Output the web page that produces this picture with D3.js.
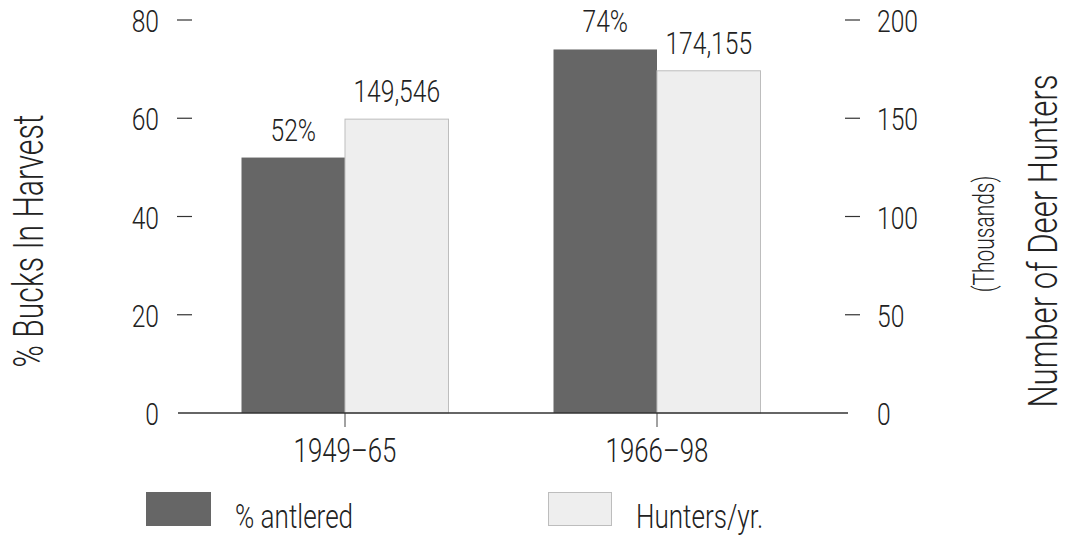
<!DOCTYPE html>
<html>
<head>
<meta charset="utf-8">
<script src="https://cdn.jsdelivr.net/npm/d3@7"></script>
<style>
  body { margin: 0; background: #fff; }
  text { font-family: Roboto, "DejaVu Sans", sans-serif; font-weight: 300; fill: #222; }
</style>
</head>
<body>
<svg id="chart" width="1066" height="535"></svg>
<script>
// data
var periods = ["1949–65", "1966–98"];
var pctAntlered = [52, 74];
var hunters = [149546, 174155];
var leftTicks = [0, 20, 40, 60, 80];
var rightTicks = [0, 50, 100, 150, 200];
var seriesNames = ["% antlered", "Hunters/yr."];
var colors = ["#666666", "#eeeeee"];

var svg = d3.select("#chart");

// narrow drafting-style font faked with a horizontal squeeze
function label(x, y, str, anchor, size, sx, rot) {
	var t = "translate(" + x + "," + y + ")" + (rot ? " rotate(" + rot + ")" : "") + " scale(" + (sx || 0.77) + ",1)";
	return svg.append("text")
		.attr("transform", t)
		.attr("text-anchor", anchor || "start")
		.style("font-size", (size || 32) + "px")
		.text(str);
}

var yLeft = d3.scaleLinear().domain([0, 80]).range([413, 20]);
var yRight = d3.scaleLinear().domain([0, 200000]).range([413, 20]);
var x0 = d3.scaleBand().domain(periods).range([189, 813]);
var x1 = d3.scaleBand().domain(seriesNames).range([-103.5, 103.5]);

// bars
periods.forEach(function (p, i) {
	var cx = x0(p) + x0.bandwidth() / 2;
	svg.append("rect")
		.attr("x", cx + x1(seriesNames[0]))
		.attr("y", yLeft(pctAntlered[i]))
		.attr("width", x1.bandwidth())
		.attr("height", yLeft(0) - yLeft(pctAntlered[i]))
		.attr("fill", colors[0]);
	svg.append("rect")
		.attr("x", cx + x1(seriesNames[1]))
		.attr("y", yRight(hunters[i]))
		.attr("width", x1.bandwidth())
		.attr("height", yRight(0) - yRight(hunters[i]))
		.attr("fill", colors[1])
		.attr("stroke", "#bdbdbd")
		.attr("stroke-width", 1);
	label(cx + x1(seriesNames[0]) + x1.bandwidth() / 2, yLeft(pctAntlered[i]) - 17, pctAntlered[i] + "%", "middle");
	label(cx + x1(seriesNames[1]) + x1.bandwidth() / 2, yRight(hunters[i]) - 17, d3.format(",")(hunters[i]), "middle");
	// category tick + label
	svg.append("line")
		.attr("x1", cx).attr("x2", cx)
		.attr("y1", yLeft(0)).attr("y2", yLeft(0) + 14)
		.attr("stroke", "#444").attr("stroke-width", 1);
	label(cx, 462, p, "middle", 34, 0.76);
});

// baseline
svg.append("line")
	.attr("x1", 178).attr("x2", 848)
	.attr("y1", yLeft(0)).attr("y2", yLeft(0))
	.attr("stroke", "#333").attr("stroke-width", 1.5);

// left ticks
leftTicks.forEach(function (v) {
	if (v > 0) {
		svg.append("line")
			.attr("x1", 177).attr("x2", 192)
			.attr("y1", yLeft(v)).attr("y2", yLeft(v))
			.attr("stroke", "#333").attr("stroke-width", 1.2);
	}
	label(159, yLeft(v) + 12, v, "end");
});

// right ticks
rightTicks.forEach(function (v) {
	if (v > 0) {
		svg.append("line")
			.attr("x1", 845).attr("x2", 860)
			.attr("y1", yRight(v * 1000)).attr("y2", yRight(v * 1000))
			.attr("stroke", "#333").attr("stroke-width", 1.2);
	}
	label(877, yRight(v * 1000) + 12, v, "start");
});

// axis titles
label(43, 241, "% Bucks In Harvest", "middle", 42, 0.72, -90);
label(1057, 241, "Number of Deer Hunters", "middle", 41, 0.76, -90);
label(994, 234, "(Thousands)", "middle", 30, 0.70, -90);

// legend
svg.append("rect").attr("x", 146).attr("y", 492).attr("width", 65).attr("height", 34).attr("fill", colors[0]);
label(235, 528, seriesNames[0], "start", 33, 0.79);
svg.append("rect").attr("x", 548.5).attr("y", 492.5).attr("width", 63).attr("height", 33)
	.attr("fill", colors[1]).attr("stroke", "#bdbdbd");
label(636, 528, seriesNames[1], "start", 33, 0.79);
</script>
</body>
</html>
